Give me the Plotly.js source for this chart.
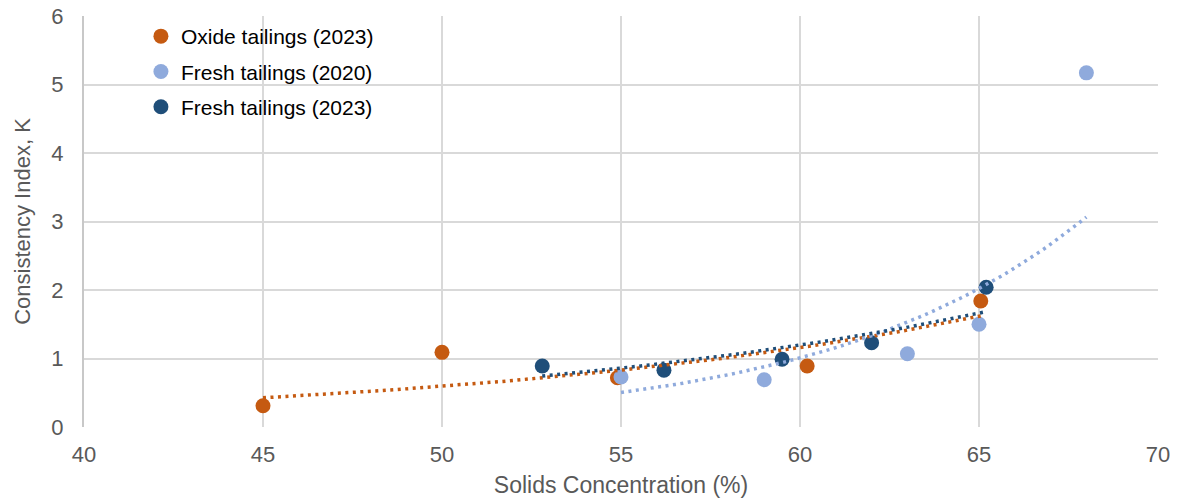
<!DOCTYPE html>
<html>
<head>
<meta charset="utf-8">
<script src="https://cdn.plot.ly/plotly-3.0.1.min.js"></script>
<style>html,body{margin:0;padding:0;background:#fff;}#chart{width:1181px;height:501px;}</style>
</head>
<body>
<div id="chart"></div>
<script>
// Data
const seriesNames = ["Oxide tailings (2023)", "Fresh tailings (2020)", "Fresh tailings (2023)"];
const oxideX = [45, 50, 54.9, 60.2, 65.05];
const oxideY = [0.31, 1.09, 0.72, 0.89, 1.84];
const fresh2020X = [55, 59, 63, 65, 68];
const fresh2020Y = [0.73, 0.69, 1.07, 1.50, 5.17];
const fresh2023X = [52.8, 56.2, 59.5, 62, 65.2];
const fresh2023Y = [0.89, 0.83, 0.99, 1.23, 2.04];
const colors = ["#C55A11", "#8FAADC", "#1F4E79"];

// Exponential trendline (least squares on ln y), like a spreadsheet trendline
function expFit(xs, ys) {
  const n = xs.length;
  const ly = ys.map(v => Math.log(v));
  const mx = xs.reduce((a, b) => a + b, 0) / n;
  const my = ly.reduce((a, b) => a + b, 0) / n;
  let sxy = 0, sxx = 0;
  for (let i = 0; i < n; i++) { sxy += (xs[i] - mx) * (ly[i] - my); sxx += (xs[i] - mx) ** 2; }
  const b = sxy / sxx, a = my - b * mx;
  const x0 = Math.min(...xs), x1 = Math.max(...xs);
  const tx = [], ty = [];
  const steps = 60;
  for (let k = 0; k <= steps; k++) {
    const x = x0 + (x1 - x0) * k / steps;
    tx.push(x); ty.push(Math.exp(a + b * x));
  }
  return {tx, ty};
}

const sets = [[oxideX, oxideY], [fresh2020X, fresh2020Y], [fresh2023X, fresh2023Y]];
const traces = [];
sets.forEach((s, i) => {
  traces.push({
    x: s[0], y: s[1], type: "scatter", mode: "markers", name: seriesNames[i],
    legendgroup: "g" + i,
    marker: {color: colors[i], size: 15, line: {width: 0}}
  });
});
sets.forEach((s, i) => {
  const f = expFit(s[0], s[1]);
  traces.push({
    x: f.tx, y: f.ty, type: "scatter", mode: "lines", showlegend: false,
    hoverinfo: "skip",
    line: {color: colors[i], width: 3.5, dash: "3px,4.5px"}
  });
});

const layout = {
  width: 1181, height: 501,
  margin: {l: 84, r: 23, t: 16, b: 74},
  paper_bgcolor: "#fff", plot_bgcolor: "#fff",
  font: {family: "Liberation Sans, Arial, sans-serif", color: "#595959", size: 22},
  showlegend: true,
  legend: {
    x: 0.053, y: 1.0, xanchor: "left", yanchor: "top",
    bgcolor: "rgba(0,0,0,0)", font: {size: 21, color: "#000"},
    traceorder: "grouped", tracegroupgap: 5, itemwidth: 30
  },
  xaxis: {
    range: [40, 70], dtick: 5, tick0: 40,
    showgrid: true, gridcolor: "#D9D9D9", gridwidth: 2,
    zeroline: false, showline: false, ticks: "",
    ticklabelstandoff: 12,
    tickfont: {size: 22, color: "#595959"},
    title: {text: "Solids Concentration (%)", font: {size: 23, color: "#595959"}, standoff: 10}
  },
  yaxis: {
    range: [0, 6], dtick: 1, tick0: 0,
    showgrid: true, gridcolor: "#D9D9D9", gridwidth: 2,
    zeroline: false, showline: true, linecolor: "#C8C8C8", linewidth: 2, ticks: "",
    ticklabelstandoff: 14,
    tickfont: {size: 22, color: "#595959"},
    title: {text: "Consistency Index, K", font: {size: 22, color: "#595959"}, standoff: 15}
  }
};

Plotly.newPlot("chart", traces, layout, {displayModeBar: false, staticPlot: true});
</script>
</body>
</html>
